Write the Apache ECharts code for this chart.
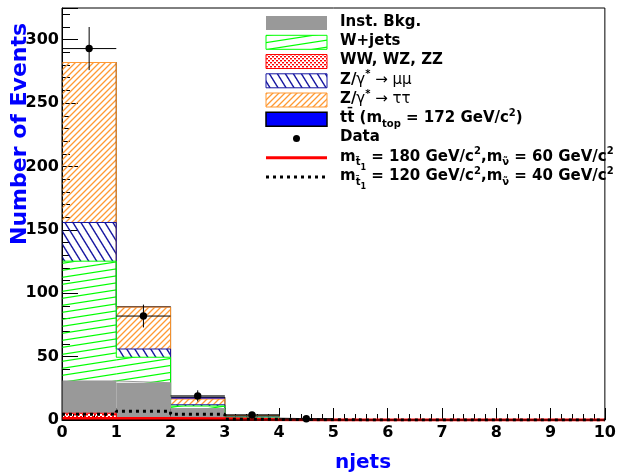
<!DOCTYPE html>
<html>
<head>
<meta charset="utf-8">
<script src="https://cdn.jsdelivr.net/npm/echarts@6/dist/echarts.min.js"></script>
<style>
html, body { margin: 0; padding: 0; background: #fff; }
#chart { width: 619px; height: 475px; }
</style>
</head>
<body>
<div id="chart"></div>
<script>
// Jet multiplicity: bin edges and axis ticks
const binEdges = [0, 1, 2, 3, 4, 5, 6, 7, 8, 9, 10];
const xTickValues = [0, 1, 2, 3, 4, 5, 6, 7, 8, 9, 10];
const yTickValues = [0, 50, 100, 150, 200, 250, 300];

// Expected events per bin for each background (stacked bottom to top)
const diboson   = [5.3, 1.0, 0.5, 0.1, 0.0, 0, 0, 0, 0, 0];
const instBkg   = [25.5, 28.4, 8.5, 1.6, 0.2, 0, 0, 0, 0, 0];
const wJets     = [94.5, 20.1, 2.0, 0.5, 0.1, 0, 0, 0, 0, 0];
const zMuMu     = [30.5, 6.5, 1.0, 0.3, 0.0, 0, 0, 0, 0, 0];
const zTauTau   = [126.2, 33.0, 4.5, 0.7, 0.1, 0, 0, 0, 0, 0];
const ttbar     = [0.0, 0.3, 1.5, 0.5, 0.1, 0, 0, 0, 0, 0];

// Observed data with Poisson errors
const dataCounts = [293, 82, 19, 4, 1];
const dataErrors = [17, 9, 4.4, 2, 1];

// Signal hypotheses
const signal180 = [1.2, 1.2, 1.0, 0.1, 0, 0, 0, 0, 0, 0];
const signal120 = [4.5, 6.9, 4.5, 0.5, 0.2, 0, 0, 0, 0, 0];

// ---- fill patterns (pixel-rendered so thin hatch lines stay crisp) ----
function hexRgb(hex) {
  const n = parseInt(hex.slice(1), 16);
  return [(n >> 16) & 255, (n >> 8) & 255, n & 255];
}
// line family through (0,h)-(w,0) when rising, (0,0)-(w,h) otherwise; repeats every h vertically
function hatch(w, h, color, rising, lw) {
  const c = document.createElement('canvas');
  c.width = w; c.height = h;
  const g = c.getContext('2d');
  const img = g.createImageData(w, h);
  const rgb = hexRgb(color);
  const norm = Math.sqrt(w * w + h * h);
  const period = w * h;
  for (let y = 0; y < h; y++) {
    for (let x = 0; x < w; x++) {
      const px = x + 0.5, py = y + 0.5;
      let s = rising ? (h * px + w * py) : (-h * px + w * py);
      s = ((s % period) + period) % period;
      const d = Math.min(s, period - s) / norm;
      const a = Math.max(0, Math.min(1, lw / 2 + 0.5 - d));
      const k = (y * w + x) * 4;
      img.data[k] = rgb[0]; img.data[k + 1] = rgb[1]; img.data[k + 2] = rgb[2];
      img.data[k + 3] = Math.round(a * 255);
    }
  }
  g.putImageData(img, 0, 0);
  return { image: c, repeat: 'repeat' };
}
function dots(color) {
  const c = document.createElement('canvas');
  c.width = 4; c.height = 4;
  const g = c.getContext('2d');
  g.fillStyle = color;
  g.fillRect(0, 0, 2, 1);
  g.fillRect(2, 2, 2, 1);
  g.globalAlpha = 0.45;
  g.fillRect(0, 1, 2, 1);
  g.fillRect(2, 3, 2, 1);
  return { image: c, repeat: 'repeat' };
}

const C = {
  gray: '#999999', green: '#00ff00', red: '#ff0000', navy: '#1414a0',
  orange: '#ff9933', blue: '#0000ff', black: '#000000'
};
const fillGreen = hatch(45, 7, C.green, true, 1.2);
const fillOrange = hatch(6, 6, C.orange, true, 1.3);
const fillNavy = hatch(8, 13, C.navy, false, 1.4);
const fillDots = dots(C.red);

// components, bottom to top
const components = [
  { name: 'WW, WZ, ZZ', values: diboson, fill: fillDots, line: C.red },
  { name: 'Inst. Bkg.', values: instBkg, fill: C.gray, line: C.gray },
  { name: 'W+jets', values: wJets, fill: fillGreen, line: C.green },
  { name: 'Z/γ* → μμ', values: zMuMu, fill: fillNavy, line: C.navy },
  { name: 'Z/γ* → ττ', values: zTauTau, fill: fillOrange, line: C.orange },
  { name: 'tt̄', values: ttbar, fill: C.blue, line: C.black }
];

const series = [];
let base = binEdges.slice(0, -1).map(() => 0);
const cumulative = [];
components.forEach((comp) => {
  const rows = comp.values.map((v, i) => [binEdges[i], binEdges[i + 1], base[i], base[i] + v]);
  series.push({
    type: 'custom',
    name: comp.name,
    z: 2,
    silent: true,
    data: rows,
    encode: { x: [0, 1], y: [2, 3] },
    renderItem(params, api) {
      const lo = api.value(0), hi = api.value(1), b = api.value(2), t = api.value(3);
      if (!(t - b > 0)) return null;
      const p0 = api.coord([lo, t]);
      const p1 = api.coord([hi, b]);
      return {
        type: 'rect',
        shape: { x: p0[0], y: p0[1], width: p1[0] - p0[0], height: p1[1] - p0[1] },
        style: { fill: comp.fill }
      };
    }
  });
  base = base.map((b, i) => b + comp.values[i]);
  cumulative.push(base.slice());
});

// step outlines of the cumulative histograms, top one drawn first
function stepPoints(vals) {
  const pts = vals.map((v, i) => [binEdges[i], v]);
  pts.push([binEdges[binEdges.length - 1], vals[vals.length - 1]]);
  return pts;
}
for (let ci = components.length - 1; ci >= 0; ci--) {
  series.push({
    type: 'line',
    step: 'end',
    silent: true,
    symbol: 'none',
    z: 3 + (components.length - 1 - ci),
    data: stepPoints(cumulative[ci]),
    lineStyle: { color: components[ci].line, width: 1 }
  });
}

// signal curves
series.push({
  type: 'line', step: 'end', silent: true, symbol: 'none', z: 12,
  data: stepPoints(signal180),
  lineStyle: { color: C.red, width: 3 }
});
series.push({
  type: 'line', step: 'end', silent: true, symbol: 'none', z: 13,
  data: stepPoints(signal120),
  lineStyle: { color: C.black, width: 3, type: [3, 4] }
});

// data points with error bars
series.push({
  type: 'custom',
  z: 14,
  silent: true,
  data: dataCounts.map((v, i) => [(binEdges[i] + binEdges[i + 1]) / 2, v, dataErrors[i], binEdges[i], binEdges[i + 1]]),
  encode: { x: 0, y: 1 },
  renderItem(params, api) {
    const x = api.value(0), y = api.value(1), e = api.value(2);
    const c = api.coord([x, y]);
    const lo = api.coord([x, Math.max(0, y - e)]);
    const hi = api.coord([x, y + e]);
    const l = api.coord([api.value(3), y]);
    const r = api.coord([api.value(4), y]);
    return {
      type: 'group',
      children: [
        { type: 'line', shape: { x1: lo[0], y1: lo[1], x2: hi[0], y2: hi[1] }, style: { stroke: '#000', lineWidth: 1 } },
        { type: 'line', shape: { x1: l[0], y1: l[1], x2: r[0], y2: r[1] }, style: { stroke: '#000', lineWidth: 1 } },
        { type: 'circle', shape: { cx: c[0], cy: c[1], r: 3.7 }, style: { fill: '#000' } }
      ]
    };
  }
});

// ---- legend ----
const F = '"DejaVu Sans", "Liberation Sans", sans-serif';
const rich = {
  b:   { font: 'bold 15px ' + F, lineHeight: 18, fill: '#000' },
  r:   { font: '15px ' + F, lineHeight: 18, fill: '#000' },
  sup: { font: 'bold 10px ' + F, lineHeight: 18, fill: '#000', padding: [0, 0, 10, 0] },
  sub: { font: 'bold 10px ' + F, lineHeight: 18, fill: '#000', padding: [12, 0, 0, 0] },
  sub2:{ font: 'bold 8px ' + F, lineHeight: 18, fill: '#000', padding: [22, 0, 0, 0] }
};
const legendLabels = [
  '{b|Inst. Bkg.}',
  '{b|W+jets}',
  '{b|WW, WZ, ZZ}',
  '{b|Z/}{r|γ}{sup|*}{r| → μμ}',
  '{b|Z/}{r|γ}{sup|*}{r| → ττ}',
  '{b|tt̄ (m}{sub|top}{b| = 172 GeV/c}{sup|2}{b|)}',
  '{b|Data}',
  '{b|m}{sub|t̃}{sub2|1}{b| = 180 GeV/c}{sup|2}{b|,m}{sub|ν̃}{b| = 60 GeV/c}{sup|2}',
  '{b|m}{sub|t̃}{sub2|1}{b| = 120 GeV/c}{sup|2}{b|,m}{sub|ν̃}{b| = 40 GeV/c}{sup|2}'
];
const rowY = [23, 42.3, 61.5, 80.8, 100, 119.3, 138.5, 157.8, 177];
const iconX = 266, iconW = 61, iconH = 14, textX = 340;
const boxes = [
  { fill: C.gray, stroke: null },
  { fill: fillGreen, stroke: C.green },
  { fill: fillDots, stroke: C.red },
  { fill: fillNavy, stroke: C.navy },
  { fill: fillOrange, stroke: C.orange },
  { fill: C.blue, stroke: C.black }
];
const legendEls = [];
boxes.forEach((bx, i) => {
  legendEls.push({
    type: 'rect',
    shape: { x: iconX, y: rowY[i] - iconH / 2, width: iconW, height: iconH },
    style: { fill: bx.fill, stroke: bx.stroke || 'none', lineWidth: bx.stroke === C.black ? 1.5 : 1 }
  });
});
legendEls.push({ type: 'circle', shape: { cx: iconX + iconW / 2, cy: rowY[6], r: 3.5 }, style: { fill: '#000' } });
legendEls.push({ type: 'line', shape: { x1: iconX, y1: rowY[7], x2: iconX + iconW, y2: rowY[7] }, style: { stroke: C.red, lineWidth: 3 } });
legendEls.push({ type: 'line', shape: { x1: iconX, y1: rowY[8], x2: iconX + iconW, y2: rowY[8] }, style: { stroke: C.black, lineWidth: 3, lineDash: [3, 4] } });
legendLabels.forEach((t, i) => {
  legendEls.push({
    type: 'text',
    x: textX, y: rowY[i] - 1,
    style: { text: t, rich: rich, font: 'bold 15px ' + F, fill: '#000', align: 'left', verticalAlign: 'middle', textAlign: 'left', textVerticalAlign: 'middle' }
  });
});

const axisLabelStyle = { color: '#000', fontFamily: F, fontWeight: 'bold', fontSize: 16 };

const option = {
  animation: false,
  backgroundColor: '#fff',
  grid: { left: 62, right: 12, top: 8, bottom: 55, show: true, borderColor: '#000', borderWidth: 1, z: 50 },
  xAxis: [{
    type: 'value', min: 0, max: 10, interval: 1, position: 'bottom',
    axisLine: { show: true, lineStyle: { color: '#000', width: 1 } },
    axisTick: { show: true, inside: true, length: 12, lineStyle: { color: '#000' } },
    minorTick: { show: true, splitNumber: 5, length: 6, lineStyle: { color: '#000' } },
    axisLabel: Object.assign({ margin: 5, formatter: v => (xTickValues.includes(v) ? String(v) : '') }, axisLabelStyle),
    splitLine: { show: false }
  }],
  yAxis: [{
    type: 'value', min: 0, max: 325, interval: 50, position: 'left',
    axisLine: { show: true, lineStyle: { color: '#000', width: 1 } },
    axisTick: { show: true, inside: true, length: 16, lineStyle: { color: '#000' } },
    axisLabel: Object.assign({ margin: 3, formatter: v => (yTickValues.includes(v) ? String(v) : '') }, axisLabelStyle),
    splitLine: { show: false }
  }, {
    type: 'value', min: 0, max: 325, interval: 10, position: 'left', offset: 0,
    axisLine: { show: false },
    axisTick: { show: true, inside: true, length: 8, lineStyle: { color: '#000' } },
    axisLabel: { show: false },
    splitLine: { show: false }
  }],
  graphic: [
    { type: 'group', children: legendEls, z: 60 },
    {
      type: 'text', x: 20, y: 245, rotation: Math.PI / 2, z: 60,
      style: { text: 'Number of Events', font: 'bold 22px ' + F, fill: '#0000ff', align: 'left', verticalAlign: 'middle', textAlign: 'left', textVerticalAlign: 'middle' }
    },
    {
      type: 'text', x: 363, y: 463, z: 60,
      style: { text: 'njets', font: 'bold 20px ' + F, fill: '#0000ff', align: 'center', verticalAlign: 'middle', textAlign: 'center', textVerticalAlign: 'middle' }
    }
  ],
  series: series
};

const chart = echarts.init(document.getElementById('chart'), null, { renderer: 'canvas' });
chart.setOption(option);
</script>
</body>
</html>
